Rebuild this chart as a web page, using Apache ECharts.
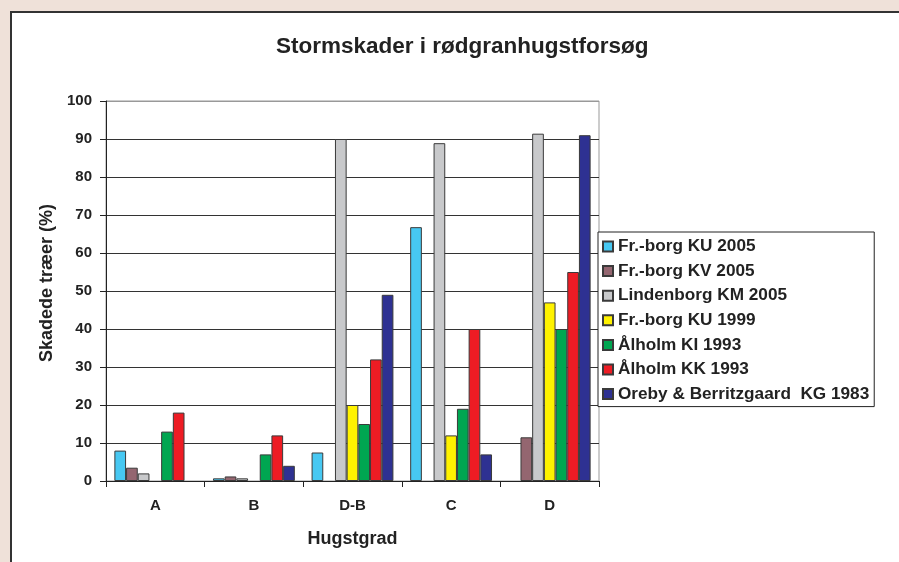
<!DOCTYPE html>
<html>
<head>
<meta charset="utf-8">
<script src="https://cdn.jsdelivr.net/npm/echarts@6/dist/echarts.min.js"></script>
<style>
  body { margin: 0; background: #efe1d9; }
  #panel { position: absolute; left: 10px; top: 11px; width: 900px; height: 560px; background: #fff; border-left: 2px solid #333; border-top: 2px solid #333; }
  #chart { position: absolute; left: 0; top: 0; width: 899px; height: 562px; }
</style>
</head>
<body>
<div id="panel"></div>
<div id="chart"></div>
<script>
// Hugstgrad kategorier
const categories = ['A', 'B', 'D-B', 'C', 'D']

// skadede træer i procent, en liste pr. forsøg (null = ingen søjle)
const frborgKU2005 = [8, 0.7, 7.5, 66.8, null]
const frborgKV2005 = [3.5, 1.2, null, null, 11.5]
const lindenborgKM2005 = [2, 0.7, 90, 88.9, 91.4]
const frborgKU1999 = [null, null, 20, 12, 47]
const aalholmKI1993 = [13, 7, 15, 19, 40]
const aalholmKK1993 = [18, 12, 32, 40, 55]
const orebyKG1983 = [null, 4, 49, 7, 91]

const yTicks = { min: 0, max: 100, interval: 10 }

const seriesDefs = [
  ['Fr.-borg KU 2005', frborgKU2005, '#47c8f2'],
  ['Fr.-borg KV 2005', frborgKV2005, '#946670'],
  ['Lindenborg KM 2005', lindenborgKM2005, '#c8c9cb'],
  ['Fr.-borg KU 1999', frborgKU1999, '#fff200'],
  ['Ålholm KI 1993', aalholmKI1993, '#00a651'],
  ['Ålholm KK 1993', aalholmKK1993, '#ed1c24'],
  ['Oreby & Berritzgaard  KG 1983', orebyKG1983, '#2e3192']
]

const font = 'Arial, "Liberation Sans", sans-serif'

let myChart = echarts.init(document.getElementById('chart'), null, { renderer: 'canvas' })

let splitColors = []
for (let i = 0; i <= 10; i++) splitColors.push(i === 10 ? '#999' : '#333')

let option = {
  backgroundColor: 'transparent',
  animation: false,
  textStyle: { fontFamily: font },
  title: {
    text: 'Stormskader i rødgranhugstforsøg',
    left: 276,
    top: 35,
    padding: 0,
    textStyle: { fontSize: 22.5, fontWeight: 'bold', color: '#222', fontFamily: font }
  },
  legend: {
    orient: 'vertical',
    left: 598,
    top: 232,
    padding: [6, 5, 4, 4],
    itemWidth: 10,
    itemHeight: 10,
    itemGap: 7.6,
    icon: 'rect',
    backgroundColor: '#fff',
    borderColor: '#222',
    borderWidth: 1,
    borderRadius: 0,
    textStyle: { fontSize: 17.2, fontWeight: 'bold', color: '#222', lineHeight: 17, fontFamily: font }
  },
  grid: {
    left: 106,
    right: 300,
    top: 101,
    bottom: 81,
    show: true,
    backgroundColor: 'transparent',
    borderColor: '#999',
    borderWidth: 1
  },
  xAxis: {
    type: 'category',
    data: categories,
    name: 'Hugstgrad',
    nameLocation: 'middle',
    nameGap: 49,
    nameTextStyle: { fontSize: 18, fontWeight: 'bold', color: '#222' },
    axisLine: { lineStyle: { color: '#222', width: 1 } },
    axisTick: { show: true, alignWithLabel: false, length: 6, lineStyle: { color: '#222' } },
    axisLabel: { fontSize: 15, fontWeight: 'bold', color: '#222', margin: 17 }
  },
  yAxis: {
    type: 'value',
    min: yTicks.min,
    max: yTicks.max,
    interval: yTicks.interval,
    name: 'Skadede træer (%)',
    nameLocation: 'middle',
    nameGap: 49,
    nameTextStyle: { fontSize: 18, fontWeight: 'bold', color: '#222', padding: [0, 0, 0, 16] },
    axisLine: { show: true, lineStyle: { color: '#222', width: 1 } },
    axisTick: { show: true, length: 6, lineStyle: { color: '#222' } },
    axisLabel: { fontSize: 15, fontWeight: 'bold', color: '#222', margin: 14 },
    splitLine: { show: true, lineStyle: { color: splitColors, width: 1 } }
  },
  series: seriesDefs.map(([name, values, color]) => ({
    name: name,
    type: 'bar',
    data: values,
    barGap: '0%',
    barCategoryGap: '17%',
    itemStyle: { color: color, borderColor: '#3a3a3a', borderWidth: 1 }
  }))
}

option && myChart.setOption(option)
</script>
</body>
</html>
